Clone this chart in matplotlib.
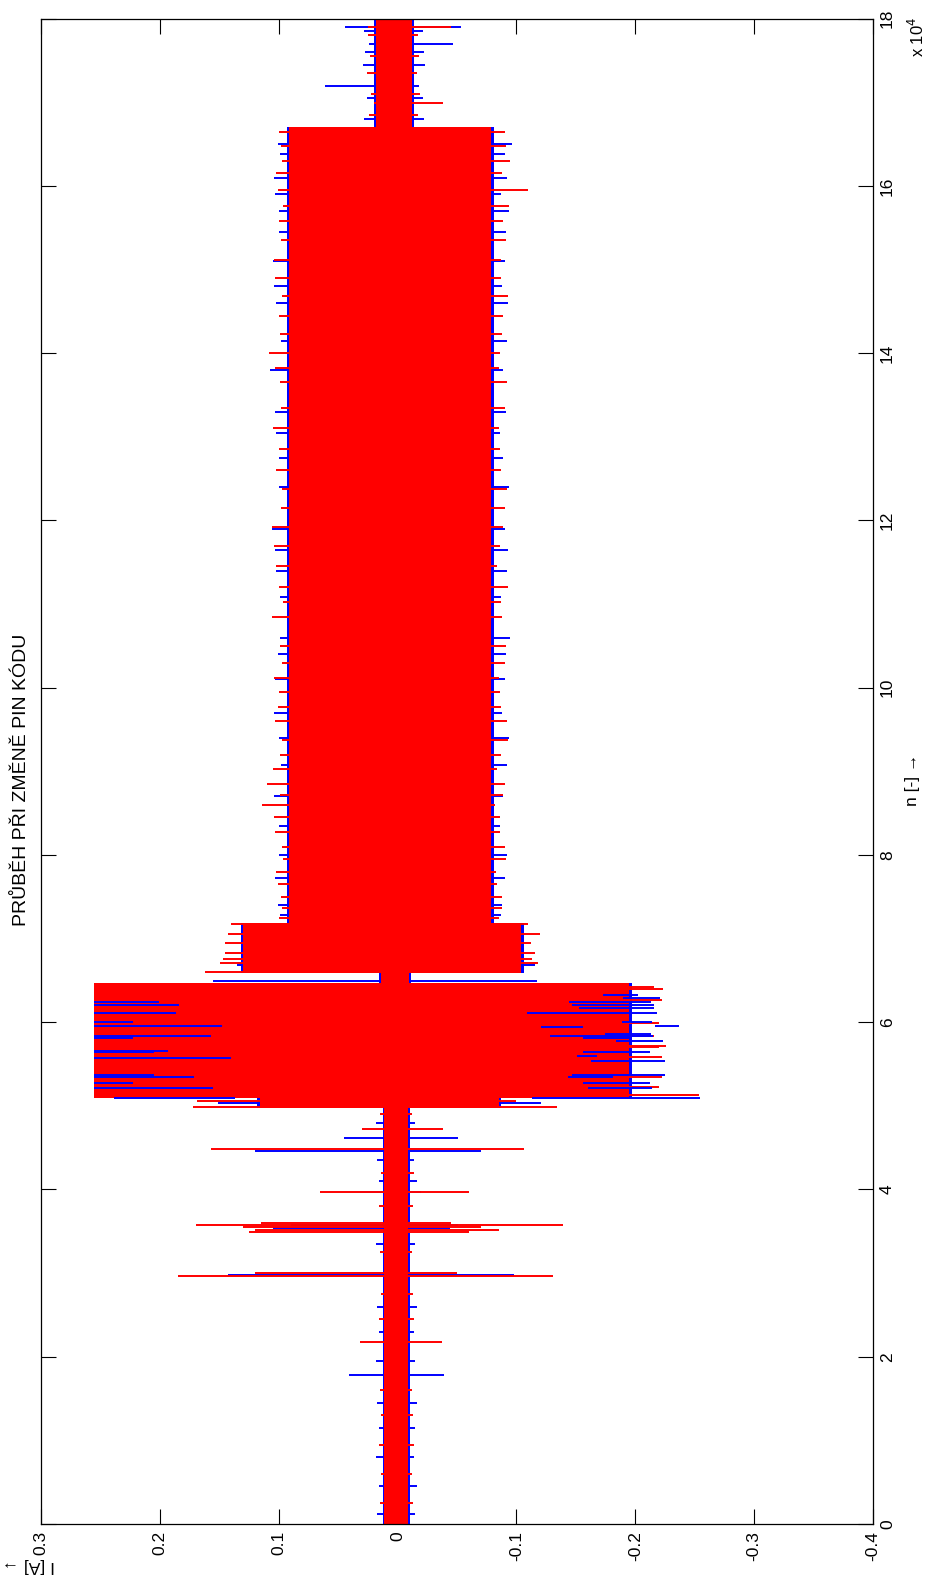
import matplotlib
matplotlib.use('Agg')
import matplotlib.pyplot as plt

# axis ticks
n_ticks = [0, 20000, 40000, 60000, 80000, 100000, 120000, 140000, 160000, 180000]
n_labels = ['0', '2', '4', '6', '8', '10', '12', '14', '16', '18']
i_ticks = [0.3, 0.2, 0.1, 0.0, -0.1, -0.2, -0.3, -0.4]
i_labels = ['0.3', '0.2', '0.1', '0', '-0.1', '-0.2', '-0.3', '-0.4']

# envelope of the two current traces, piece by piece (n in samples, I in A)
seg_n0 = [0, 49800, 50900, 64700, 65900, 71900, 167100]
seg_n1 = [49800, 50900, 64700, 65900, 71900, 167100, 180000]
red_hi = [0.011, 0.116, 0.255, 0.014, 0.130, 0.091, 0.018]
red_lo = [-0.009, -0.085, -0.195, -0.010, -0.104, -0.079, -0.012]
blue_hi = [0.0125, 0.118, 0.255, 0.0155, 0.132, 0.093, 0.0195]
blue_lo = [-0.0105, -0.087, -0.197, -0.0115, -0.106, -0.081, -0.0135]

# single peaks of the red trace
red_spk_n = [21800, 29700, 30000, 34900, 35200, 35500, 35700, 36000, 39700, 44800,
             47200, 49900, 50600,
             51300, 52300, 53400, 55900, 57000, 57200, 58300, 59900, 62600, 64000, 64200,
             65950,
             71800, 70600, 69500, 68300, 67600, 67100,
             72500, 75000, 78000, 81000, 84500, 86000, 88500, 92000, 96000, 99500,
             103000, 108500, 112000, 117000, 121500, 126000, 131000, 136500, 140000,
             144500, 149000, 153500, 159500, 163000, 166500,
             169900, 179000]
red_spk_hi = [0.032, 0.185, 0.120, 0.125, 0.120, 0.130, 0.170, 0.115, 0.065, 0.157,
              0.030, 0.172, 0.169,
              0.255, 0.255, 0.255, 0.255, 0.255, 0.255, 0.255, 0.255, 0.255, 0.255, 0.255,
              0.162,
              0.140, 0.143, 0.145, 0.145, 0.147, 0.149,
              0.100, 0.098, 0.102, 0.097, 0.104, 0.114, 0.110, 0.099, 0.103, 0.100,
              0.097, 0.106, 0.100, 0.104, 0.098, 0.102, 0.105, 0.099, 0.108,
              0.100, 0.103, 0.098, 0.101, 0.097, 0.100,
              0.020, 0.025]
red_spk_lo = [-0.037, -0.131, -0.050, -0.060, -0.085, -0.070, -0.139, -0.045, -0.060, -0.106,
              -0.038, -0.134, -0.100,
              -0.254, -0.220, -0.2225, -0.2225, -0.220, -0.2258, -0.216, -0.220, -0.2225, -0.223, -0.216,
              -0.076,
              -0.110, -0.120, -0.112, -0.116, -0.113, -0.118,
              -0.085, -0.088, -0.083, -0.090, -0.086, -0.082, -0.090, -0.087, -0.092, -0.086,
              -0.090, -0.088, -0.093, -0.086, -0.090, -0.087, -0.085, -0.092, -0.086,
              -0.089, -0.087, -0.091, -0.110, -0.095, -0.090,
              -0.038, -0.045]

# ragged edges of the red trace
red_edge_n = [2500, 6000, 9500, 13000, 16000, 24500, 27500, 32500, 38000, 42000, 49000,
              73700, 76500, 79500, 82800, 87200, 90300, 93800, 97700, 101200, 105000,
              110200, 114500, 119200, 123800, 128500, 133500, 138200, 142300, 146800,
              151200, 155800, 157600, 161500, 164800,
              168500, 171000, 173500, 175500, 178000]
red_edge_hi = [0.015, 0.014, 0.016, 0.014, 0.015, 0.016, 0.014, 0.015, 0.016, 0.014, 0.015,
               0.097, 0.101, 0.096, 0.103, 0.099, 0.105, 0.097, 0.101, 0.104, 0.099,
               0.096, 0.102, 0.106, 0.097, 0.100, 0.098, 0.103, 0.099, 0.097,
               0.104, 0.100, 0.096, 0.102, 0.098,
               0.024, 0.022, 0.026, 0.023, 0.025]
red_edge_lo = [-0.013, -0.012, -0.014, -0.013, -0.012, -0.014, -0.013, -0.012, -0.013, -0.014, -0.012,
               -0.088, -0.084, -0.091, -0.086, -0.089, -0.084, -0.093, -0.087, -0.085, -0.091,
               -0.087, -0.084, -0.089, -0.092, -0.086, -0.090, -0.085, -0.088, -0.093,
               -0.087, -0.089, -0.094, -0.088, -0.091,
               -0.017, -0.019, -0.016, -0.018, -0.017]

# single peaks of the blue trace
blue_spk_n = [17800, 29800, 35400, 35800, 39700, 44600, 46200, 50300, 64900, 66800,
              74000, 80000, 87000, 94000, 101000, 106000, 114000, 119000, 124000,
              133000, 138000, 146000, 151000, 157000, 161000, 165000,
              172000, 177000, 179000,
              1200, 4500, 8000, 11500, 14500, 19500, 23000, 26000, 33500, 41000, 43500, 48000,
              72800, 77200, 83500, 90800, 97000, 104000, 110800, 116500, 127500, 130500,
              141500, 148000, 154500, 159000, 163800,
              168000, 170500, 174500, 176000, 178500]
blue_spk_hi = [0.041, 0.143, 0.105, 0.090, 0.032, 0.120, 0.045, 0.151, 0.155, 0.135,
               0.101, 0.100, 0.104, 0.100, 0.103, 0.099, 0.102, 0.106, 0.100,
               0.103, 0.107, 0.102, 0.105, 0.100, 0.104, 0.101,
               0.061, 0.024, 0.044,
               0.017, 0.016, 0.018, 0.016, 0.017, 0.018, 0.016, 0.017, 0.018, 0.016, 0.017, 0.018,
               0.099, 0.103, 0.100, 0.098, 0.104, 0.101, 0.099, 0.103, 0.100, 0.102,
               0.098, 0.104, 0.100, 0.103, 0.099,
               0.028, 0.026, 0.029, 0.027, 0.028]
blue_spk_lo = [-0.039, -0.098, -0.044, -0.051, -0.020, -0.070, -0.051, -0.121, -0.117, -0.116,
               -0.088, -0.092, -0.089, -0.094, -0.090, -0.095, -0.092, -0.090, -0.094,
               -0.091, -0.089, -0.093, -0.090, -0.094, -0.092, -0.096,
               -0.018, -0.047, -0.053,
               -0.015, -0.016, -0.014, -0.015, -0.016, -0.015, -0.014, -0.016, -0.015, -0.016, -0.014, -0.015,
               -0.087, -0.090, -0.086, -0.092, -0.088, -0.091, -0.087, -0.093, -0.089, -0.086,
               -0.092, -0.088, -0.091, -0.087, -0.090,
               -0.022, -0.021, -0.023, -0.022, -0.021]

# blue samples showing through the red block (n, from, to)
blue_top_n = [62400, 62100, 61100, 60000, 59500, 58400, 58100, 56600, 56400, 55700,
              53700, 53500, 52700, 52100, 50900,
              63200, 62900, 62400, 62100, 61700, 61100, 60000, 59600, 59400, 58600,
              58400, 58100, 57700, 56400, 56000, 55400, 53700, 53400, 52700, 52100, 50900]
blue_top_a = [0.255, 0.255, 0.255, 0.255, 0.255, 0.255, 0.255, 0.255, 0.255, 0.255,
              0.255, 0.255, 0.255, 0.255, 0.239,
              -0.173, -0.190, -0.1445, -0.1465, -0.153, -0.109, -0.189, -0.2166, -0.1207, -0.1745,
              -0.128, -0.156, -0.184, -0.156, -0.1507, -0.1625, -0.1465, -0.143, -0.156, -0.1605, -0.113]
blue_top_b = [0.201, 0.184, 0.186, 0.223, 0.148, 0.157, 0.223, 0.193, 0.205, 0.140,
              0.205, 0.171, 0.223, 0.155, 0.137,
              -0.202, -0.221, -0.213, -0.216, -0.216, -0.218, -0.214, -0.237, -0.156, -0.213,
              -0.215, -0.1955, -0.2236, -0.212, -0.1675, -0.225, -0.225, -0.1815, -0.212, -0.2138, -0.2544]

plt.rcParams['font.family'] = ['Liberation Sans Narrow', 'Liberation Sans', 'DejaVu Sans']

fig = plt.figure(figsize=(9.31, 15.89), dpi=100)
ax = fig.add_axes([41 / 931, 1 - 1524 / 1589, 832 / 931, 1505.3 / 1589])

for k in range(len(seg_n0)):
    ax.fill_betweenx([seg_n0[k], seg_n1[k]], blue_lo[k], blue_hi[k], color='blue', lw=0, zorder=1)
ax.hlines(blue_spk_n, blue_spk_lo, blue_spk_hi, color='blue', lw=1.4, zorder=2)
for k in range(len(seg_n0)):
    ax.fill_betweenx([seg_n0[k], seg_n1[k]], red_lo[k], red_hi[k], color='red', lw=0, zorder=3)
ax.hlines(red_spk_n, red_spk_lo, red_spk_hi, color='red', lw=1.4, zorder=4)
ax.hlines(red_edge_n, red_edge_lo, red_edge_hi, color='red', lw=1.4, zorder=4)
ax.hlines(blue_top_n, blue_top_a, blue_top_b, color='blue', lw=1.4, zorder=5)

ax.set_xlim(0.3, -0.4)
ax.set_ylim(0, 180000)
ax.set_xticks(i_ticks)
ax.set_xticklabels(i_labels, rotation=90)
ax.set_yticks(n_ticks)
ax.set_yticklabels(n_labels, rotation=90, va='center')
ax.tick_params(direction='in', length=10.8, width=0.8, top=True, bottom=True,
               left=True, right=True, labelleft=False, labelright=True,
               labelsize=12.5, pad=5)
for s in ax.spines.values():
    s.set_linewidth(0.9)
    s.set_zorder(6)

fig.text(22 / 931, 1 - 780 / 1589, 'PRŮBĚH PŘI ZMĚNĚ PIN KÓDU', rotation=90,
         ha='center', va='center', fontsize=14)
fig.text(912 / 931, 1 - 780 / 1589, 'n [-] →', rotation=90,
         ha='center', va='center', fontsize=12.5)
fig.text(917 / 931, 1 - 37 / 1589, 'x 10$^{4}$', rotation=90,
         ha='center', va='center', fontsize=12)
fig.text(28 / 931, 1 - 1565 / 1589, 'I [A] →', rotation=180,
         ha='center', va='center', fontsize=12.5)

fig.savefig('out.png', dpi=100, facecolor='white')
